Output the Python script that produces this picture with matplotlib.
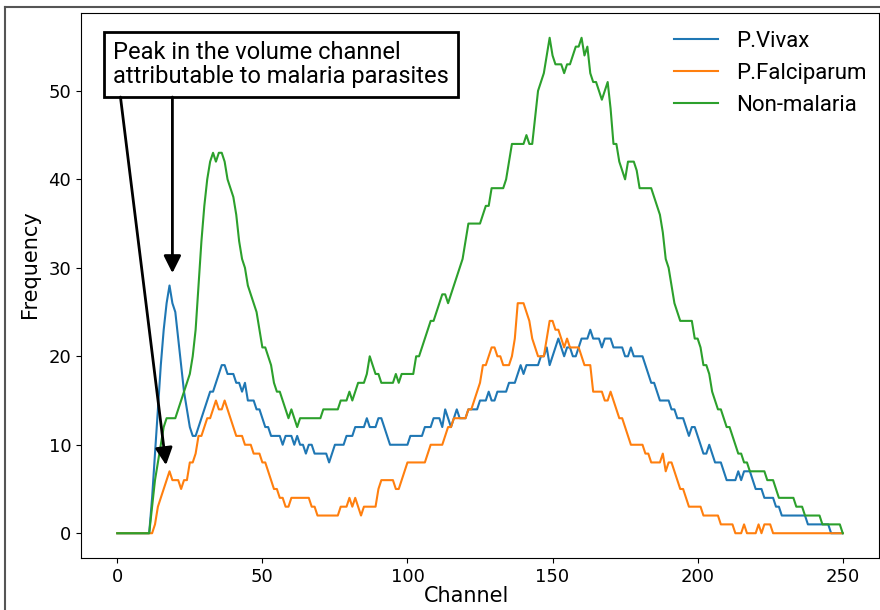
import matplotlib
matplotlib.use("Agg")
import matplotlib.pyplot as plt
from matplotlib.lines import Line2D

# 数据 (channel 0..250)
channels = list(range(251))

p_vivax = [
    0, 0, 0, 0, 0, 0, 0, 0, 0, 0, 0, 0, 4, 9, 14, 19, 23, 26, 28, 26,
    25, 22, 19, 16, 14, 12, 11, 11, 12, 13, 14, 15, 16, 16, 17, 18, 19, 19, 18, 18,
    18, 17, 17, 16, 17, 15, 15, 15, 14, 14, 13, 12, 12, 11, 11, 11, 11, 10, 11, 11,
    11, 10, 11, 10, 10, 9, 10, 10, 9, 9, 9, 9, 9, 8, 9, 10, 10, 10, 10, 11,
    11, 11, 12, 12, 12, 12, 13, 12, 12, 12, 13, 13, 12, 11, 10, 10, 10, 10, 10, 10,
    10, 11, 11, 11, 11, 11, 12, 12, 12, 13, 13, 13, 12, 14, 13, 12, 13, 14, 13, 13,
    13, 14, 14, 14, 14, 15, 15, 15, 16, 15, 15, 16, 16, 16, 16, 17, 17, 17, 18, 19,
    18, 19, 19, 19, 19, 19, 20, 20, 21, 19, 20, 21, 22, 21, 20, 21, 21, 20, 20, 21,
    22, 22, 22, 23, 22, 22, 22, 21, 22, 22, 22, 21, 21, 21, 21, 20, 20, 21, 20, 20,
    20, 20, 19, 18, 17, 17, 16, 15, 15, 15, 15, 14, 14, 13, 13, 13, 12, 11, 12, 12,
    11, 10, 9, 9, 10, 9, 8, 8, 8, 7, 6, 6, 6, 6, 7, 6, 7, 7, 7, 6,
    5, 5, 5, 4, 4, 4, 4, 3, 3, 2, 2, 2, 2, 2, 2, 2, 2, 2, 1, 1,
    1, 1, 1, 1, 1, 1, 0, 0, 0, 0, 0,
]

p_falciparum = [
    0, 0, 0, 0, 0, 0, 0, 0, 0, 0, 0, 0, 0, 1, 3, 4, 5, 6, 7, 6,
    6, 6, 5, 6, 6, 8, 8, 9, 11, 11, 12, 13, 13, 14, 15, 14, 14, 15, 14, 13,
    12, 11, 11, 11, 10, 10, 10, 9, 9, 9, 8, 8, 7, 6, 5, 5, 4, 4, 3, 3,
    4, 4, 4, 4, 4, 4, 4, 3, 3, 2, 2, 2, 2, 2, 2, 2, 2, 3, 3, 3,
    4, 3, 4, 3, 2, 3, 3, 3, 3, 3, 5, 6, 6, 6, 6, 6, 5, 5, 6, 7,
    8, 8, 8, 8, 8, 8, 8, 9, 10, 10, 10, 10, 10, 11, 12, 12, 13, 13, 13, 13,
    13, 14, 14, 15, 16, 17, 19, 19, 20, 21, 21, 20, 20, 19, 19, 19, 20, 22, 26, 26,
    26, 25, 24, 22, 21, 20, 20, 20, 22, 24, 24, 23, 23, 22, 21, 22, 21, 21, 21, 21,
    20, 19, 19, 19, 16, 16, 16, 16, 15, 15, 16, 15, 14, 13, 13, 12, 11, 10, 10, 10,
    10, 10, 9, 9, 8, 8, 8, 8, 9, 7, 8, 8, 7, 6, 5, 5, 4, 3, 3, 3,
    3, 3, 2, 2, 2, 2, 2, 2, 1, 1, 1, 1, 1, 0, 0, 0, 1, 0, 0, 0,
    0, 1, 0, 1, 1, 1, 0, 0, 0, 0, 0, 0, 0, 0, 0, 0, 0, 0, 0, 0,
    0, 0, 0, 0, 0, 0, 0, 0, 0, 0, 0,
]

non_malaria = [
    0, 0, 0, 0, 0, 0, 0, 0, 0, 0, 0, 0, 3, 6, 8, 10, 12, 13, 13, 13,
    13, 14, 15, 16, 17, 18, 20, 23, 28, 33, 37, 40, 42, 43, 42, 43, 43, 42, 40, 39,
    38, 36, 33, 31, 30, 28, 27, 26, 25, 23, 21, 21, 20, 19, 17, 16, 16, 15, 14, 13,
    14, 13, 12, 13, 13, 13, 13, 13, 13, 13, 13, 14, 14, 14, 14, 14, 14, 15, 15, 15,
    16, 15, 16, 17, 17, 17, 18, 20, 19, 18, 18, 17, 17, 17, 17, 17, 18, 17, 18, 18,
    18, 18, 18, 20, 20, 21, 22, 23, 24, 24, 25, 26, 27, 27, 26, 27, 28, 29, 30, 31,
    33, 35, 35, 35, 35, 35, 36, 37, 37, 39, 39, 39, 39, 39, 40, 42, 44, 44, 44, 44,
    44, 45, 44, 44, 47, 50, 51, 52, 54, 56, 54, 53, 53, 53, 52, 53, 53, 54, 55, 55,
    56, 54, 55, 52, 51, 51, 50, 49, 50, 51, 48, 44, 44, 42, 41, 40, 42, 42, 42, 41,
    39, 39, 39, 39, 39, 38, 37, 36, 34, 31, 30, 28, 26, 25, 24, 24, 24, 24, 24, 22,
    22, 21, 19, 19, 18, 16, 15, 14, 14, 13, 12, 12, 11, 10, 9, 9, 8, 8, 7, 7,
    7, 7, 7, 7, 6, 6, 6, 5, 4, 4, 4, 4, 4, 4, 3, 3, 3, 2, 2, 2,
    2, 2, 2, 1, 1, 1, 1, 1, 1, 1, 0,
]

series_labels = ['P.Vivax', 'P.Falciparum', 'Non-malaria']
x_ticks = [0, 50, 100, 150, 200, 250]
y_ticks = [0, 10, 20, 30, 40, 50]
note_text = 'Peak in the volume channel\nattributable to malaria parasites'

W, H = 880, 610
plt.rcParams['font.family'] = ['DejaVu Sans']

fig = plt.figure(figsize=(W / 100, H / 100), dpi=100)
ax = fig.add_axes([81 / W, (H - 558) / H, (879 - 81) / W, (558 - 13) / H])

ax.plot(channels, p_vivax, color='tab:blue', lw=1.5, label=series_labels[0])
ax.plot(channels, p_falciparum, color='tab:orange', lw=1.5, label=series_labels[1])
ax.plot(channels, non_malaria, color='tab:green', lw=1.5, label=series_labels[2])

ax.set_xticks(x_ticks)
ax.set_yticks(y_ticks)
ax.tick_params(labelsize=13)
ax.set_xlabel('Channel', fontsize=15, labelpad=2)
ax.xaxis.set_label_coords(0.483, -0.052)
ax.set_ylabel('Frequency', fontsize=15)
ax.yaxis.set_label_coords(-0.051, 0.54)

ax.legend(loc='upper left', bbox_to_anchor=(654 / W, 1 - 11 / H),
          bbox_transform=fig.transFigure, frameon=False,
          prop={'family': 'Roboto', 'size': 16},
          handlelength=2.0, handletextpad=0.8, labelspacing=0.5)

# 注释框和箭头
ax.text(113 / W, 1 - 41 / H, note_text, transform=fig.transFigure,
        ha='left', va='top', fontsize=17, family='Roboto', linespacing=1.05,
        bbox=dict(boxstyle='square,pad=0.4', fc='white', ec='black', lw=2))
arrow = dict(arrowstyle='-|>', color='black', lw=2, mutation_scale=26,
             shrinkA=0, shrinkB=0)
ax.annotate('', xy=(19, 29.4), xytext=(19, 49.3), arrowprops=arrow)
ax.annotate('', xy=(16.8, 7.7), xytext=(1.1, 49.3), arrowprops=arrow)

# 外框
fig.add_artist(Line2D([5 / W, 5 / W], [0, 1 - 7 / H], transform=fig.transFigure,
                      color='#555555', lw=1.5))
fig.add_artist(Line2D([5 / W, 1], [1 - 7 / H, 1 - 7 / H], transform=fig.transFigure,
                      color='#555555', lw=1.5))

fig.savefig('out.png', dpi=100)
